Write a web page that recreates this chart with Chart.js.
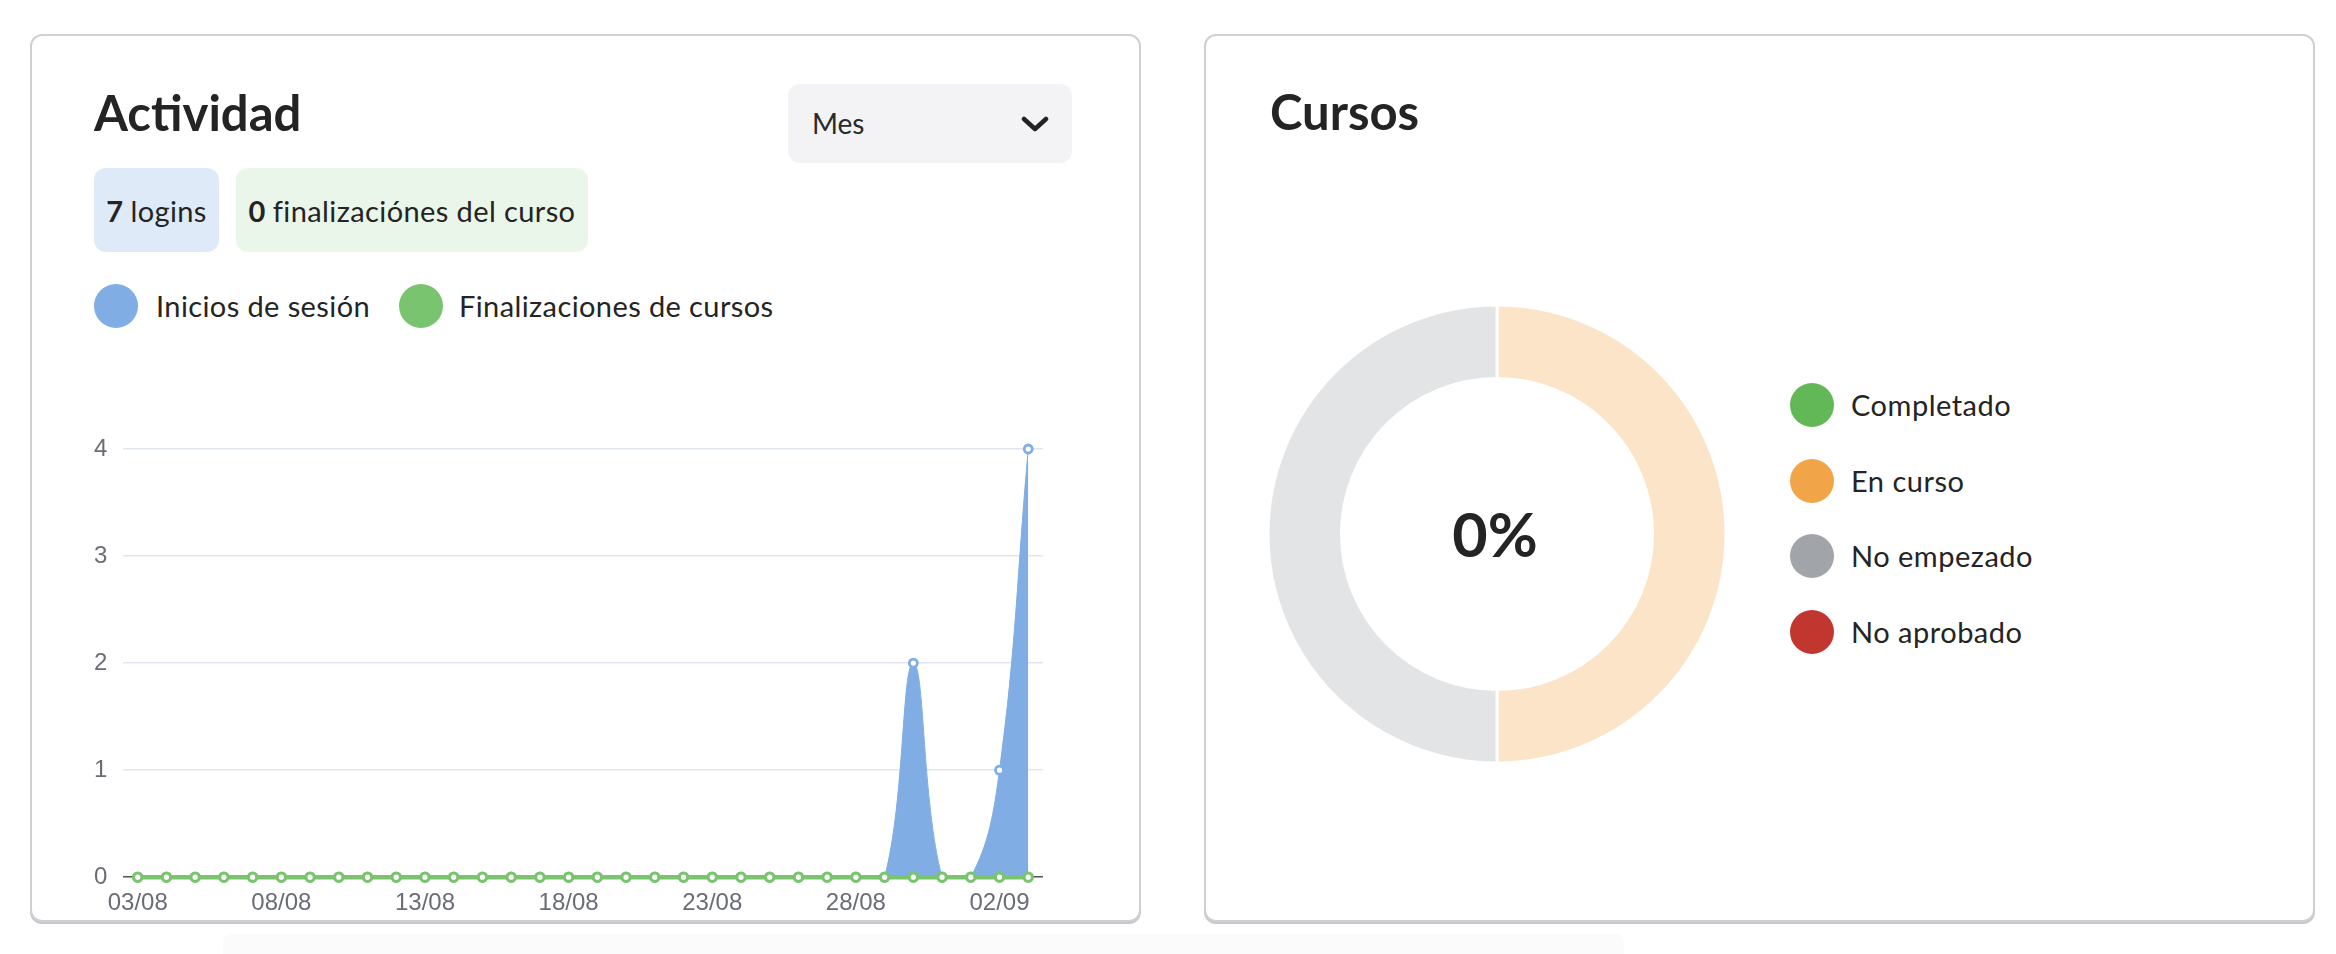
<!DOCTYPE html>
<html><head><meta charset="utf-8">
<script src="https://cdn.jsdelivr.net/npm/chart.js@4.4.0/dist/chart.umd.min.js"></script>
<style>
html,body{margin:0;padding:0;background:#fff;width:2336px;height:954px;overflow:hidden;font-family:Lato,'Open Sans',sans-serif;color:#242424;}
.abs{position:absolute;}
.card{position:absolute;border:2px solid #d0d0d4;border-radius:12px;box-sizing:border-box;box-shadow:0 2px 0 #c8c8cc;background:#fff;}
.title{position:absolute;font-weight:700;font-size:49px;line-height:48px;white-space:nowrap;}
.badge{position:absolute;height:84px;top:168px;border-radius:12px;display:flex;align-items:center;justify-content:center;font-size:29px;letter-spacing:0.4px;white-space:nowrap;}
.badge b{font-weight:700;margin-right:7px;}
.dot{position:absolute;width:44px;height:44px;border-radius:50%;}
.lbl{position:absolute;font-size:29px;letter-spacing:0.4px;line-height:44px;height:44px;white-space:nowrap;}
.lbl2{position:absolute;font-size:29px;letter-spacing:0.5px;line-height:44px;height:44px;white-space:nowrap;}
</style></head>
<body>
<div class="card" style="left:30px;top:34px;width:1111px;height:888px;"></div>
<div class="card" style="left:1204px;top:34px;width:1111px;height:888px;"></div>
<div class="abs" style="left:223px;top:934px;width:1401px;height:20px;background:#fbfbfb;border-radius:8px 8px 0 0;"></div>

<div class="title" style="left:94px;top:88px;">Actividad</div>
<div class="abs" style="left:788px;top:84px;width:284px;height:79px;background:#f3f3f5;border-radius:12px;">
  <div class="abs" style="left:24px;top:0;line-height:79px;font-size:28px;color:#2a2a2a;">Mes</div>
  <svg class="abs" style="left:233px;top:32px;" width="28" height="16" viewBox="0 0 28 16"><polyline points="3,3 14,13 25,3" fill="none" stroke="#222" stroke-width="4.5" stroke-linecap="round" stroke-linejoin="round"/></svg>
</div>
<div class="badge" style="left:94px;width:125px;background:#dfeaf8;"><b>7</b>logins</div>
<div class="badge" style="left:236px;width:352px;background:#eaf6e9;"><b>0</b>finalizaciónes del curso</div>

<div class="dot" style="left:94px;top:284px;background:#80ade3;"></div>
<div class="lbl" style="left:156px;top:284px;">Inicios de sesión</div>
<div class="dot" style="left:399px;top:284px;background:#79c46e;"></div>
<div class="lbl" style="left:459px;top:284px;">Finalizaciones de cursos</div>

<canvas id="line" class="abs" style="left:78px;top:429px;" width="972" height="501"></canvas>

<div class="title" style="left:1270px;top:87px;">Cursos</div>
<canvas id="donut" class="abs" style="left:1257px;top:294px;" width="480" height="480"></canvas>
<div class="abs" style="left:1395px;top:498px;width:200px;text-align:center;font-weight:700;font-size:61px;line-height:72px;">0%</div>
<div id="dlegend"></div>

<script>
const dates = ['03/08','04/08','05/08','06/08','07/08','08/08','09/08','10/08','11/08','12/08','13/08','14/08','15/08','16/08','17/08','18/08','19/08','20/08','21/08','22/08','23/08','24/08','25/08','26/08','27/08','28/08','29/08','30/08','31/08','01/09','02/09','03/09'];
const logins = [0,0,0,0,0,0,0,0,0,0,0,0,0,0,0,0,0,0,0,0,0,0,0,0,0,0,0,2,0,0,1,4];
const completions = [0,0,0,0,0,0,0,0,0,0,0,0,0,0,0,0,0,0,0,0,0,0,0,0,0,0,0,0,0,0,0,0];
const tickStep = 5;
const yTicks = [0,1,2,3,4];

const courseLabels = ['Completado','En curso','No empezado','No aprobado'];
const courseValues = [0,1,1,0];
const courseColors = ['#62b757','#f2a449','#a1a5a9','#c1372f'];

function rgba(hex,a){const n=parseInt(hex.slice(1),16);return `rgba(${n>>16},${(n>>8)&255},${n&255},${a})`;}

new Chart(document.getElementById('line'),{
  type:'line',
  data:{labels:dates,datasets:[
    {label:'Finalizaciones de cursos',data:completions,borderColor:'#7ac46d',backgroundColor:'#7ac46d',borderWidth:4.5,
     pointRadius:4.2,pointBorderWidth:3.2,pointBackgroundColor:'#fff',pointBorderColor:'#7ac46d',fill:false,tension:0.4,order:0,clip:false},
    {label:'Inicios de sesión',data:logins,borderColor:'#80ade3',backgroundColor:'#80ade3',borderWidth:1,
     pointRadius:4,pointBorderWidth:2.8,pointBackgroundColor:'#fff',pointBorderColor:'#80ade3',fill:'origin',tension:0.4,order:1,clip:false}
  ]},
  options:{responsive:false,animation:false,devicePixelRatio:1,
    layout:{padding:{top:20,left:0,right:0,bottom:0}},
    plugins:{legend:{display:false},tooltip:{enabled:false}},
    scales:{
      x:{offset:true,grid:{display:false,drawTicks:false},border:{display:true,color:'#555',width:1.5},
         afterFit:(s)=>{s.paddingLeft=0;s.paddingRight=0;},
         ticks:{autoSkip:false,maxRotation:0,padding:12,color:'#6b6d75',font:{size:24,family:"'Liberation Sans', Arial, sans-serif"},
           callback:(v,i)=> i%tickStep===0?dates[i]:''}},
      y:{min:yTicks[0],max:yTicks[yTicks.length-1],grid:{color:'#e1e5f1',lineWidth:1.5,drawTicks:false},border:{display:false},
         afterBuildTicks:(s)=>{s.ticks=yTicks.map(v=>({value:v}));},
         afterFit:(s)=>{s.paddingTop=0;s.paddingBottom=0;},
         ticks:{padding:16,color:'#6b6d75',font:{size:24,family:"'Liberation Sans', Arial, sans-serif"}}}
    }}
});

new Chart(document.getElementById('donut'),{
  type:'doughnut',
  data:{labels:courseLabels,datasets:[{data:courseValues,backgroundColor:courseColors.map(c=>rgba(c,0.3)),borderColor:'#fff',borderWidth:3}]},
  options:{responsive:false,animation:false,devicePixelRatio:1,radius:229,cutout:162,
    plugins:{legend:{display:false},tooltip:{enabled:false}}}
});

const lg=document.getElementById('dlegend');
const legendTops=[383,459,534,610];
courseLabels.forEach((l,i)=>{
  const d=document.createElement('div');d.className='dot';d.style.left='1790px';d.style.top=legendTops[i]+'px';d.style.background=courseColors[i];lg.appendChild(d);
  const t=document.createElement('div');t.className='lbl2';t.style.left='1851px';t.style.top=legendTops[i]+'px';t.textContent=l;lg.appendChild(t);
});
</script>
</body></html>
